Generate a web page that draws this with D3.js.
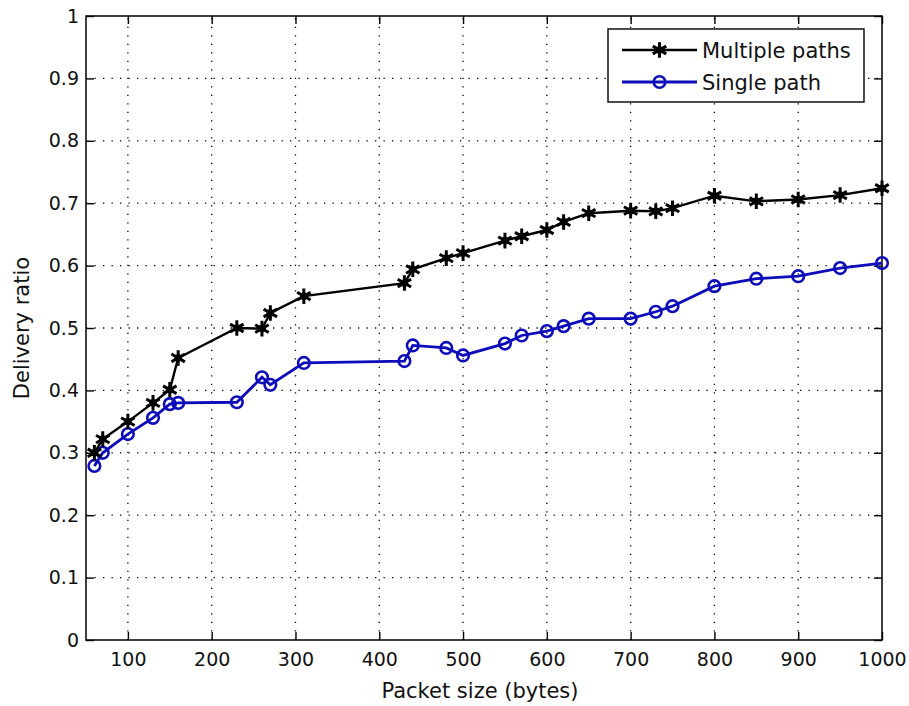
<!DOCTYPE html>
<html>
<head>
<meta charset="utf-8">
<script src="https://cdn.jsdelivr.net/npm/d3@7"></script>
<style>
  html, body { margin: 0; padding: 0; background: #ffffff; }
  svg { display: block; }
  text { font-family: "DejaVu Sans", sans-serif; fill: #111; }
</style>
</head>
<body>
<svg id="chart" width="909" height="706"></svg>
<script>
// Packet sizes (bytes) at which delivery ratio was measured
const packetSizes = [60, 70, 100, 130, 150, 160, 230, 260, 270, 310, 430, 440, 480, 500,
                     550, 570, 600, 620, 650, 700, 730, 750, 800, 850, 900, 950, 1000];
// Delivery ratio using multiple paths
const multiplePaths = [0.300, 0.322, 0.350, 0.380, 0.401, 0.452, 0.500, 0.499, 0.524, 0.551,
                       0.572, 0.594, 0.612, 0.620, 0.640, 0.647, 0.657, 0.670, 0.684, 0.688,
                       0.687, 0.692, 0.712, 0.703, 0.706, 0.713, 0.724];
// Delivery ratio using a single path
const singlePath = [0.279, 0.300, 0.330, 0.356, 0.378, 0.380, 0.381, 0.421, 0.409, 0.444,
                    0.447, 0.472, 0.468, 0.456, 0.475, 0.488, 0.495, 0.503, 0.515, 0.515,
                    0.526, 0.535, 0.567, 0.579, 0.583, 0.596, 0.604];
const xTicks = [100, 200, 300, 400, 500, 600, 700, 800, 900, 1000];
const yTicks = [0, 0.1, 0.2, 0.3, 0.4, 0.5, 0.6, 0.7, 0.8, 0.9, 1];
const seriesNames = ["Multiple paths", "Single path"];

const svg = d3.select("#chart");
const plotLeft = 86, plotRight = 882, plotTop = 16, plotBottom = 640;

const x = d3.scaleLinear().domain([50, 1000]).range([plotLeft, plotRight]);
const y = d3.scaleLinear().domain([0, 1]).range([plotBottom, plotTop]);

const black = "#000000";
const blue = "#0c0cba";

// plot background
svg.append("rect").attr("x", plotLeft).attr("y", plotTop)
  .attr("width", plotRight - plotLeft).attr("height", plotBottom - plotTop).attr("fill", "#fff");

// dotted grid
const grid = svg.append("g").attr("stroke", "#000").attr("stroke-width", 1.3)
  .attr("stroke-dasharray", "1.3,7.2");
grid.selectAll("line.v").data(xTicks.filter(d => d < 1000)).join("line")
  .attr("class", "v")
  .attr("x1", d => x(d)).attr("x2", d => x(d)).attr("y1", plotBottom).attr("y2", plotTop);
grid.selectAll("line.h").data(yTicks.filter(d => d > 0 && d < 1)).join("line")
  .attr("class", "h")
  .attr("x1", plotLeft).attr("x2", plotRight).attr("y1", d => y(d)).attr("y2", d => y(d));

// axes with inward ticks on all four sides
const fmtY = d => d === 0 ? "0" : d === 1 ? "1" : d3.format(".1f")(d);
const gx = svg.append("g").attr("transform", `translate(0,${plotBottom})`)
  .call(d3.axisBottom(x).tickValues(xTicks).tickSize(-8).tickPadding(13).tickFormat(d3.format("d")));
const gy = svg.append("g").attr("transform", `translate(${plotLeft},0)`)
  .call(d3.axisLeft(y).tickValues(yTicks).tickSize(-8).tickPadding(7).tickFormat(fmtY));
const gt = svg.append("g").attr("transform", `translate(0,${plotTop})`)
  .call(d3.axisTop(x).tickValues(xTicks).tickSize(-8).tickFormat(""));
const gr = svg.append("g").attr("transform", `translate(${plotRight},0)`)
  .call(d3.axisRight(y).tickValues(yTicks).tickSize(-8).tickFormat(""));

[gx, gy, gt, gr].forEach(g => {
  g.select(".domain").remove();
  g.selectAll(".tick line").attr("stroke", "#000").attr("stroke-width", 1.4);
  g.selectAll("text").attr("font-size", 19).attr("font-family", "DejaVu Sans, sans-serif")
    .attr("fill", "#111");
});

// axes box
svg.append("rect").attr("x", plotLeft).attr("y", plotTop)
  .attr("width", plotRight - plotLeft).attr("height", plotBottom - plotTop)
  .attr("fill", "none").attr("stroke", "#000").attr("stroke-width", 1.5);

// axis titles
svg.append("text").attr("x", 480).attr("y", 698).attr("text-anchor", "middle")
  .attr("font-size", 21).text("Packet size (bytes)");
svg.append("text").attr("transform", `translate(29,${(plotTop + plotBottom) / 2}) rotate(-90)`)
  .attr("text-anchor", "middle").attr("font-size", 21).text("Delivery ratio");

// marker drawers
const asterisk = d3.symbol().type(d3.symbolAsterisk).size(170);
function drawStar(g, cx, cy) {
  g.append("path").attr("d", asterisk()).attr("transform", `translate(${cx},${cy})`)
    .attr("fill", "none").attr("stroke", black).attr("stroke-width", 3);
  g.append("circle").attr("cx", cx).attr("cy", cy).attr("r", 3.8).attr("fill", black);
}
function drawCircle(g, cx, cy) {
  g.append("circle").attr("cx", cx).attr("cy", cy).attr("r", 5.8)
    .attr("fill", "none").attr("stroke", blue).attr("stroke-width", 2.6);
}

const line = d3.line().x(d => x(d[0])).y(d => y(d[1]));
const multiData = packetSizes.map((p, i) => [p, multiplePaths[i]]);
const singleData = packetSizes.map((p, i) => [p, singlePath[i]]);

// single path series
const gs = svg.append("g");
gs.append("path").datum(singleData).attr("d", line)
  .attr("fill", "none").attr("stroke", blue).attr("stroke-width", 2.8);
singleData.forEach(d => drawCircle(gs, x(d[0]), y(d[1])));

// multiple paths series
const gm = svg.append("g");
gm.append("path").datum(multiData).attr("d", line)
  .attr("fill", "none").attr("stroke", black).attr("stroke-width", 2.4);
multiData.forEach(d => drawStar(gm, x(d[0]), y(d[1])));

// legend
const lg = svg.append("g");
lg.append("rect").attr("x", 608).attr("y", 29).attr("width", 256).attr("height", 73)
  .attr("fill", "#fff").attr("stroke", "#000").attr("stroke-width", 1.4);
const rows = [
  { name: seriesNames[0], color: black, stroke: 2.4, y: 50, mark: drawStar },
  { name: seriesNames[1], color: blue, stroke: 2.8, y: 82, mark: drawCircle }
];
rows.forEach(r => {
  lg.append("line").attr("x1", 622).attr("x2", 697).attr("y1", r.y).attr("y2", r.y)
    .attr("stroke", r.color).attr("stroke-width", r.stroke);
  r.mark(lg, 659.5, r.y);
  lg.append("text").attr("x", 702).attr("y", r.y + 7.5).attr("font-size", 21).text(r.name);
});
</script>
</body>
</html>
